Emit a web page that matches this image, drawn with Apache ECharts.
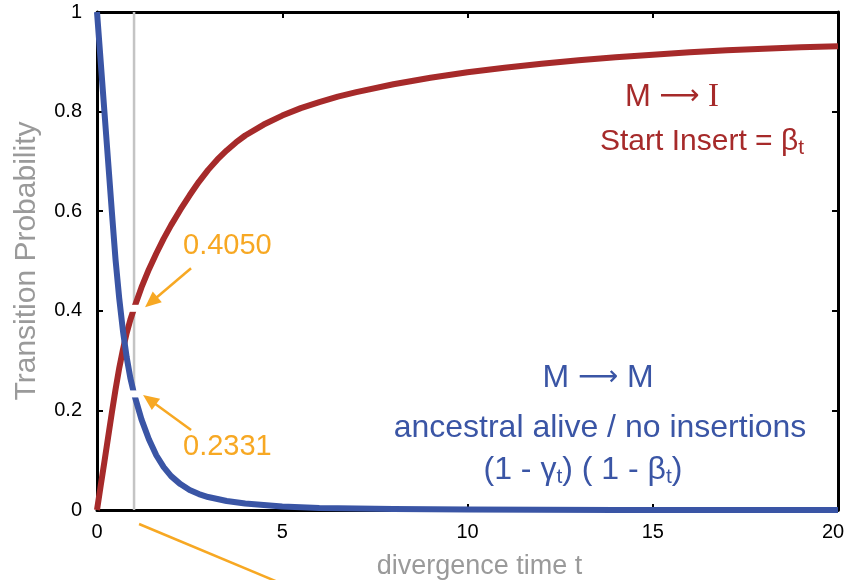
<!DOCTYPE html>
<html><head><meta charset="utf-8">
<script src="https://cdn.jsdelivr.net/npm/echarts@6/dist/echarts.min.js"></script>
<style>html,body{margin:0;padding:0;background:#fff}#c{width:847px;height:580px}</style>
</head><body><div id="c"></div>
<script>
// ---- data ----
const insertT    = [0, 0.1, 0.2, 0.3, 0.4, 0.5, 0.6, 0.7, 0.8, 0.9, 1.0, 1.2, 1.4, 1.6, 1.8, 2.0, 2.25, 2.5, 2.75, 3.0, 3.25, 3.5, 3.75, 4.0, 4.5, 5.0, 5.5, 6.0, 6.5, 7, 8, 9, 10, 11, 12, 13, 14, 15, 16, 17, 18, 19, 20];
const insertProb = [0, 0.049, 0.097, 0.146, 0.195, 0.242, 0.285, 0.322, 0.355, 0.382, 0.405, 0.447, 0.483, 0.515, 0.545, 0.572, 0.603, 0.632, 0.659, 0.683, 0.704, 0.722, 0.738, 0.752, 0.774, 0.792, 0.807, 0.819, 0.83, 0.839, 0.855, 0.868, 0.879, 0.888, 0.896, 0.903, 0.909, 0.914, 0.919, 0.923, 0.926, 0.929, 0.931];
const matchT     = [0, 0.1, 0.2, 0.3, 0.4, 0.5, 0.6, 0.7, 0.8, 0.9, 1.0, 1.2, 1.4, 1.6, 1.8, 2.0, 2.25, 2.5, 2.75, 3.0, 3.5, 4.0, 4.5, 5, 6, 7, 8, 10, 12, 14, 20];
const matchProb  = [1, 0.9, 0.8, 0.7, 0.6, 0.503, 0.425, 0.36, 0.307, 0.265, 0.2331, 0.182, 0.142, 0.11, 0.086, 0.068, 0.052, 0.04, 0.032, 0.026, 0.018, 0.013, 0.01, 0.007, 0.004, 0.003, 0.002, 0.001, 0.0005, 0, 0];
const xTicks = [0, 5, 10, 15, 20];
const yTicks = [0, 0.2, 0.4, 0.6, 0.8, 1];
const markT = 1;
const markInsert = 0.4050;
const markMatch = 0.2331;
const markInsertLabel = '0.4050';
const markMatchLabel = '0.2331';
const guideLine = [[markT, 0], [markT, 1]];

const RED = '#A62A2A', BLUE = '#3A55A5', ORANGE = '#F7A823', GRAY = '#9a9a9a';
const FONT = 'Liberation Sans, Arial, sans-serif';

const chart = echarts.init(document.getElementById('c'), null, {renderer: 'canvas'});

function axisCommon(show) {
  return {
    type: 'value',
    axisLine: {show: true, onZero: false, lineStyle: {color: '#000', width: 3}},
    axisTick: {show: true, inside: true, length: 6, lineStyle: {color: '#000', width: 2}},
    splitLine: {show: false},
    axisLabel: {show: show, color: '#000', fontSize: 20, fontFamily: FONT}
  };
}

const xBase = {min: xTicks[0], max: xTicks[xTicks.length - 1], interval: xTicks[1] - xTicks[0]};
const yBase = {min: yTicks[0], max: yTicks[yTicks.length - 1], interval: yTicks[1] - yTicks[0]};
const xMax = xTicks[xTicks.length - 1];

chart.setOption({
  animation: false,
  grid: {left: 97, right: 9, top: 12, bottom: 70, containLabel: false, outerBoundsMode: 'none'},
  xAxis: [
    Object.assign(axisCommon(true), xBase, {
      position: 'bottom',
      axisLabel: {show: true, color: '#000', fontSize: 20, fontFamily: FONT, margin: 12,
        formatter: (v) => v === xMax ? '{r|' + v + '}' : String(v),
        rich: {r: {fontSize: 20, fontFamily: FONT, color: '#000', padding: [0, 10, 0, 0]}}},
      name: 'divergence time t', nameLocation: 'middle', nameGap: 43,
      nameTextStyle: {fontSize: 27, color: GRAY, fontFamily: FONT, padding: [0, 0, 0, 24]}
    }),
    Object.assign(axisCommon(false), xBase, {position: 'top'})
  ],
  yAxis: [
    Object.assign(axisCommon(true), yBase, {
      position: 'left',
      axisLabel: {show: true, color: '#000', fontSize: 20, fontFamily: FONT, margin: 15},
      name: 'Transition Probability', nameLocation: 'middle', nameGap: 55,
      nameTextStyle: {fontSize: 30, color: GRAY, fontFamily: FONT}
    }),
    Object.assign(axisCommon(false), yBase, {position: 'right'})
  ],
  series: [
    {
      type: 'line', name: 'guide', data: guideLine, showSymbol: false, silent: true,
      lineStyle: {color: '#c4c4c4', width: 2.5}, z: 1, clip: false
    },
    {
      type: 'line', name: 'M→I', data: insertT.map((t, i) => [t, insertProb[i]]),
      showSymbol: false, smooth: false, clip: false, z: 3,
      lineStyle: {color: RED, width: 6, join: 'round'},
      markPoint: {
        silent: true, symbol: 'rect', symbolSize: [16, 7],
        itemStyle: {color: '#fff'}, label: {show: false},
        data: [{coord: [markT, markInsert]}]
      }
    },
    {
      type: 'line', name: 'M→M', data: matchT.map((t, i) => [t, matchProb[i]]),
      showSymbol: false, smooth: false, clip: false, z: 3,
      lineStyle: {color: BLUE, width: 6, join: 'round'},
      markPoint: {
        silent: true, symbol: 'rect', symbolSize: [16, 7],
        itemStyle: {color: '#fff'}, label: {show: false},
        data: [{coord: [markT, markMatch]}]
      }
    }
  ]
});

function px(t, v) { return chart.convertToPixel({xAxisIndex: 0, yAxisIndex: 0}, [t, v]); }

function arrow(tail, tip, color) {
  const dx = tip[0] - tail[0], dy = tip[1] - tail[1];
  const L = Math.sqrt(dx * dx + dy * dy);
  const ux = dx / L, uy = dy / L;
  const headLen = 16, headW = 7;
  const bx = tip[0] - ux * headLen, by = tip[1] - uy * headLen;
  return [
    {type: 'line', silent: true, z: 10, shape: {x1: tail[0], y1: tail[1], x2: bx + ux * 2, y2: by + uy * 2},
     style: {stroke: color, lineWidth: 2.5}},
    {type: 'polygon', silent: true, z: 10,
     shape: {points: [[tip[0], tip[1]], [bx - uy * headW, by + ux * headW], [bx + uy * headW, by - ux * headW]]},
     style: {fill: color}}
  ];
}

const p1 = px(markT, markInsert);
const p2 = px(markT, markMatch);
const p0 = px(markT, 0);

const g = [];
g.push(...arrow([p1[0] + 57, p1[1] - 40], [p1[0] + 11, p1[1] - 1], ORANGE));
g.push(...arrow([p2[0] + 57, p2[1] + 36], [p2[0] + 9, p2[1] + 1], ORANGE));
g.push({type: 'line', silent: true, z: 10,
  shape: {x1: p0[0] + 5, y1: p0[1] + 14, x2: p0[0] + 5 + 160, y2: p0[1] + 14 + 160 * 56 / 134},
  style: {stroke: ORANGE, lineWidth: 2.5}});
g.push({type: 'text', silent: true, z: 10, x: p1[0] + 49, y: p1[1] - 62,
  style: {text: markInsertLabel, fill: ORANGE, font: '29px ' + FONT, textAlign: 'left', textVerticalAlign: 'middle'}});
g.push({type: 'text', silent: true, z: 10, x: p2[0] + 49, y: p2[1] + 53,
  style: {text: markMatchLabel, fill: ORANGE, font: '29px ' + FONT, textAlign: 'left', textVerticalAlign: 'middle'}});

const subStyle = (c) => ({fontSize: 21, fontFamily: FONT, fill: c, lineHeight: 13, verticalAlign: 'bottom'});
const arrStyle = (c) => ({fontSize: 28, fontFamily: 'DejaVu Sans', fill: c});
// red legend text
g.push({type: 'text', silent: true, z: 10, x: 672, y: 97,
  style: {text: 'M {arr|\u27F6} {serif|I}', fill: RED, fontSize: 31, fontFamily: FONT,
    textAlign: 'center', textVerticalAlign: 'middle',
    rich: {arr: arrStyle(RED), serif: {fontSize: 33, fontFamily: 'Liberation Serif', fill: RED}}}});
g.push({type: 'text', silent: true, z: 10, x: 702, y: 142,
  style: {text: 'Start Insert = \u03b2{sub|t}', fill: RED, fontSize: 30, fontFamily: FONT, lineHeight: 34,
    textAlign: 'center', textVerticalAlign: 'middle', rich: {sub: subStyle(RED)}}});
// blue legend text
g.push({type: 'text', silent: true, z: 10, x: 598, y: 378,
  style: {text: 'M {arr|\u27F6} M', fill: BLUE, fontSize: 32, fontFamily: FONT,
    textAlign: 'center', textVerticalAlign: 'middle',
    rich: {arr: arrStyle(BLUE)}}});
g.push({type: 'text', silent: true, z: 10, x: 600, y: 428,
  style: {text: 'ancestral alive / no insertions', fill: BLUE, fontSize: 32, fontFamily: FONT,
    textAlign: 'center', textVerticalAlign: 'middle'}});
g.push({type: 'text', silent: true, z: 10, x: 583, y: 470,
  style: {text: '(1 - \u03b3{sub|t}) ( 1 - \u03b2{sub|t})', fill: BLUE, fontSize: 32, fontFamily: FONT, lineHeight: 36,
    textAlign: 'center', textVerticalAlign: 'middle', rich: {sub: subStyle(BLUE)}}});

chart.setOption({graphic: g});
</script>
</body></html>
